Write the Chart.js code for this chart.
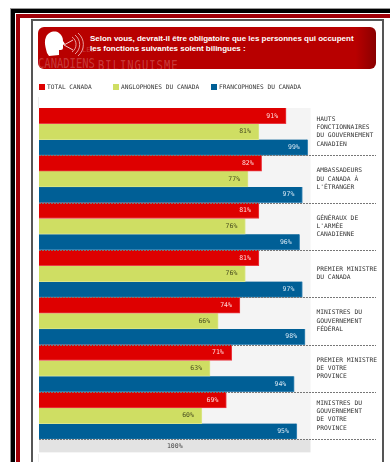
<!DOCTYPE html>
<html lang="fr">
<head>
<meta charset="utf-8">
<title>Canadiens et bilinguisme</title>
<script src="https://cdn.jsdelivr.net/npm/chart.js@4"></script>
<style>
html,body{margin:0;padding:0;background:#fff;}
#page{position:relative;width:390px;height:462px;overflow:hidden;background:#fff;}
#page div,#page svg,#page canvas{position:absolute;}

/* frames */
.frameBlack{left:10px;top:8px;width:500px;height:600px;border:1px solid #999;border-width:1px 0 0 1px;box-sizing:border-box;}
.frameBlack2{left:11px;top:9px;width:500px;height:600px;border:solid #000;border-width:4px 0 0 4px;box-sizing:border-box;}
.frameRed{left:16px;top:14px;width:500px;height:600px;border:solid #a00008;border-width:4px 0 0 4px;box-sizing:border-box;}
.box{left:31px;top:19px;width:353px;height:600px;border:solid #555;border-width:2px 2px 0 2px;box-sizing:border-box;background:#fff;}

/* header */
#header{left:38px;top:27px;width:338px;height:42px;border-radius:6px;overflow:hidden;
    background:linear-gradient(to right,#b80000 0,#b80000 94%,#8a0000 100%);}
#question{left:52px;top:7px;width:285px;color:#fff;font:bold 8px/9.6px "Liberation Sans",sans-serif;letter-spacing:-0.02px;white-space:pre;}
.ghost{color:rgba(255,255,255,.24);font-family:"DejaVu Sans Mono",monospace;white-space:pre;transform-origin:0 0;}

/* legend */
.legendBox{width:6px;height:6px;top:84px;}
.legendText{top:83px;font:6.2px/8px "DejaVu Sans Mono",monospace;color:#333;white-space:pre;}

#chart{left:0;top:0;}
.edge{left:38px;width:1px;background:#eee;}
</style>
</head>
<body>
<div id="page">
    <div class="frameBlack"></div>
    <div class="frameBlack2"></div>
    <div class="frameRed"></div>
    <div class="box"></div>
    <div class="edge" style="top:97px;height:11px"></div>
    <div class="edge" style="top:454px;height:8px"></div>

    <div id="header">
        <div class="ghost" style="left:0;top:27px;font-size:10.5px;transform:scaleY(1.4)">CANADIENS</div>
        <div class="ghost" style="left:60px;top:29px;font-size:10.5px;letter-spacing:1px;transform:scaleY(1.4)">BILINGUISME</div>
        <div class="ghost" style="left:44px;top:19px;font-size:7px">LES</div>
        <svg style="left:6px;top:4px" width="48" height="28" viewBox="0 0 48 28">
            <path d="M3 22 C1 15 0 10 2 6 C4 1 11 -1 15 2 C18 4 19 7 19 10 L21 13 L19 14 L19 17 C19 19 17 19 15 19 L15 24 L5 25 Z" fill="#fff"/>
            <path d="M29 9 L20 14 L29 19" fill="none" stroke="#f3c8c8" stroke-width="1"/>
            <path d="M28 6 A9 9 0 0 1 28 21" fill="none" stroke="#f3c8c8" stroke-width="0.8"/>
            <path d="M31 4 A12 12 0 0 1 31 23" fill="none" stroke="#f3c8c8" stroke-width="0.8"/>
            <path d="M34 2 A15 15 0 0 1 34 25" fill="none" stroke="#f3c8c8" stroke-width="0.8"/>
        </svg>
        <div id="question">Selon vous, devrait-il être obligatoire que les personnes qui occupent
les fonctions suivantes soient bilingues :</div>
    </div>

    <canvas id="chart" width="390" height="462"></canvas>
</div>

<script>
/* =========================
   DATA
========================= */

const categories = [
    ["HAUTS","FONCTIONNAIRES","DU GOUVERNEMENT","CANADIEN"],
    ["AMBASSADEURS","DU CANADA À","L'ÉTRANGER"],
    ["GÉNÉRAUX DE","L'ARMÉE","CANADIENNE"],
    ["PREMIER MINISTRE","DU CANADA"],
    ["MINISTRES DU","GOUVERNEMENT","FÉDÉRAL"],
    ["PREMIER MINISTRE","DE VOTRE","PROVINCE"],
    ["MINISTRES DU","GOUVERNEMENT","DE VOTRE","PROVINCE"]
];

const seriesNames = ["TOTAL CANADA","ANGLOPHONES DU CANADA","FRANCOPHONES DU CANADA"];

const totalCanada = [91,82,81,81,74,71,69];
const anglophones = [81,77,76,76,66,63,60];
const francophones = [99,97,96,97,98,94,95];

const barColors = ["#de0000","#cfde63","#005f96"];
const edgeColors = ["#ea3a44","#dbe68a","#3f8ab8"];
const labelColors = ["#ffd9d9","#4a4f20","#d4e6f2"];

const MONO = '"DejaVu Sans Mono", monospace';

/* =========================
   LEGEND
========================= */

const legendLeft = [39,113,211];
const page = document.getElementById("page");

seriesNames.forEach((name,i)=>{
    const box = document.createElement("div");
    box.className = "legendBox";
    box.style.left = legendLeft[i]+"px";
    box.style.background = barColors[i];
    page.appendChild(box);

    const txt = document.createElement("div");
    txt.className = "legendText";
    txt.style.left = (legendLeft[i]+8)+"px";
    txt.textContent = name;
    page.appendChild(txt);
});

/* =========================
   PLUGINS
========================= */

// grey panel behind the bars and the 100% band under them
const panelPlugin = {
    id:"panel",
    beforeDraw(chart){
        const {ctx,chartArea:a} = chart;
        ctx.save();
        ctx.fillStyle = "#f4f4f4";
        ctx.fillRect(a.left,a.top,a.right-a.left,a.bottom-a.top);
        ctx.fillStyle = "#e3e3e3";
        ctx.fillRect(a.left,a.bottom,a.right-a.left,13);
        ctx.restore();
    }
};

// percent inside the end of each bar, dashed rule under each group
const labelPlugin = {
    id:"barLabels",
    afterDatasetsDraw(chart){
        const {ctx,chartArea:a,scales:{y}} = chart;
        ctx.save();

        ctx.font = "6.5px "+MONO;
        ctx.textAlign = "right";
        ctx.textBaseline = "middle";
        chart.data.datasets.forEach((ds,d)=>{
            chart.getDatasetMeta(d).data.forEach((bar,i)=>{
                ctx.fillStyle = labelColors[d];
                ctx.fillText(ds.data[i]+"%",bar.x-8,bar.y);
            });
        });

        ctx.strokeStyle = "#777";
        ctx.lineWidth = 1;
        ctx.setLineDash([2,1]);
        categories.forEach((c,i)=>{
            const py = Math.round(y.getPixelForValue(i+0.5))+0.5;
            ctx.beginPath();
            ctx.moveTo(a.left,py);
            ctx.lineTo(376,py);
            ctx.stroke();
        });
        ctx.restore();
    }
};

/* =========================
   CHART
========================= */

const datasets = [totalCanada,anglophones,francophones].map((values,i)=>({
    label:seriesNames[i],
    data:values,
    backgroundColor:barColors[i],
    borderColor:edgeColors[i],
    borderWidth:{top:0,left:0,right:1,bottom:1},
    borderSkipped:false,
    categoryPercentage:1,
    barPercentage:1
}));

new Chart(document.getElementById("chart"),{
    type:"bar",
    data:{labels:categories,datasets:datasets},
    plugins:[panelPlugin,labelPlugin],
    options:{
        indexAxis:"y",
        responsive:false,
        animation:false,
        layout:{padding:{left:39,top:108,right:0,bottom:8}},
        plugins:{legend:{display:false},tooltip:{enabled:false},title:{display:false}},
        scales:{
            x:{
                min:0,
                max:100,
                grid:{display:false},
                border:{display:false},
                ticks:{display:false},
                title:{
                    display:true,
                    text:"100%",
                    color:"#444",
                    font:{family:MONO,size:6.5,lineHeight:1.2},
                    padding:{top:2.6,bottom:2.6}
                },
                afterFit(scale){ scale.height = 13; }
            },
            y:{
                position:"right",
                grid:{display:false,drawTicks:false},
                border:{display:false},
                ticks:{
                    color:"#333",
                    crossAlign:"near",
                    padding:6,
                    autoSkip:false,
                    font:{family:MONO,size:6.3,lineHeight:1.32}
                },
                afterFit(scale){ scale.width = 79.5; }
            }
        }
    }
});
</script>
</body>
</html>
